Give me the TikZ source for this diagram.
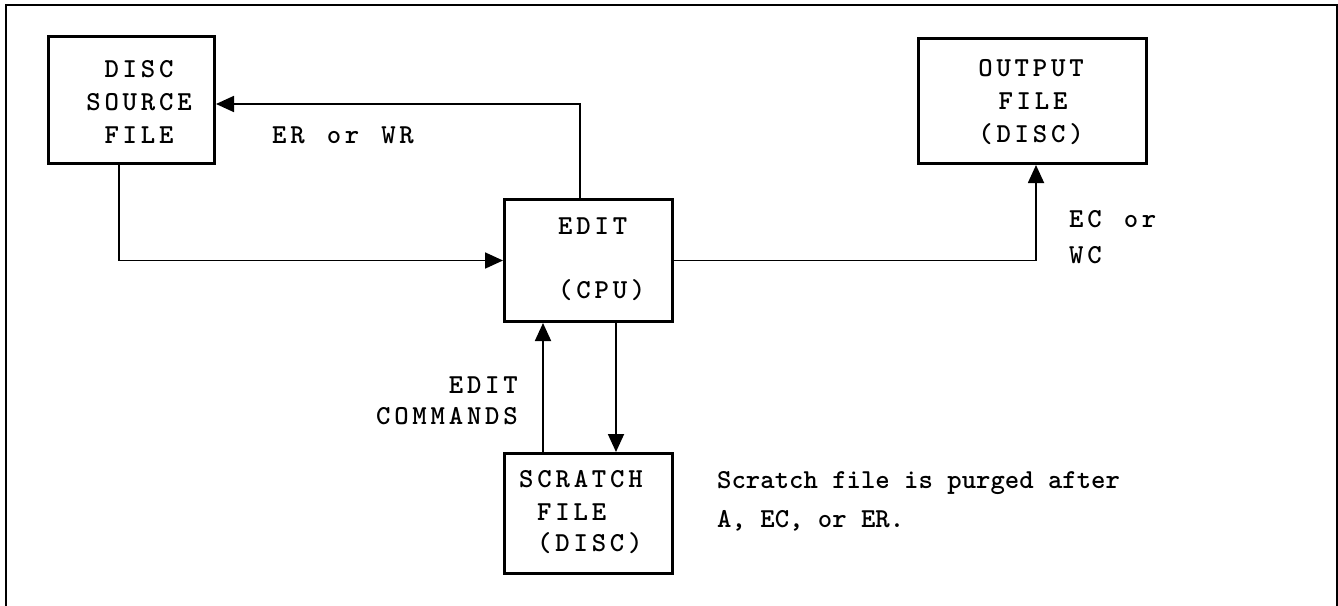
\documentclass[tikz,border=0pt]{standalone}
\usetikzlibrary{arrows.meta,positioning}
\ExplSyntaxOn
\NewDocumentCommand\lsp{m}{%
  \str_map_inline:nn{#1}{%
    \str_if_eq:nnTF{##1}{~}{\kern14.385pt}{##1}\kern3.8pt}%
  \unkern}
\ExplSyntaxOff
\tikzset{
  x=1pt,y=-1pt,
  box/.style={draw,line width=3pt,inner sep=0pt},
  link/.style={line width=1.8pt},
  tip/.style={-{Triangle[length=18pt,width=16pt]}},
  txt/.style={inner sep=0pt,font=\ttfamily\bfseries\fontsize{27.4}{33.5}\selectfont},
}
\begin{document}
\begin{tikzpicture}
\useasboundingbox (0,0) rectangle (1338,605);
% outer frame (no bottom edge)
\draw[link] (6,606) -- (6,5) -- (1337,5) -- (1337,606);

% boxes
\node[box,minimum width=166pt,minimum height=127pt] (disc) at (131.5,100) {};
\node[box,minimum width=168pt,minimum height=122pt] (edit) at (588.5,260.5) {};
\node[box,minimum width=168pt,minimum height=120pt] (scratch) at (588.5,513.5) {};
\node[box,minimum width=228pt,minimum height=125pt] (output) at (1032.5,101) {};

% box texts
\node[txt,anchor=base] (d1) at (139,77) {\lsp{DISC}};
\node[txt,anchor=base] (d2) at (139,110.5) {\lsp{SOURCE}};
\node[txt,anchor=base] (d3) at (139,143) {\lsp{FILE}};

\node[txt,anchor=base west] (e1) at (558,234) {\lsp{EDIT}};
\node[txt,anchor=base west] (e2) at (558,298) {\lsp{(CPU)}};

\node[txt,anchor=base] (o1) at (1031,76) {\lsp{OUTPUT}};
\node[txt,anchor=base] (o2) at (1033,109.5) {\lsp{FILE}};
\node[txt,anchor=base] (o3) at (1031,142) {\lsp{(DISC)}};

\node[txt,anchor=base west] (s1) at (519,487) {\lsp{SCRATCH}};
\node[txt,anchor=base west] (s2) at (537,520) {\lsp{FILE}};
\node[txt,anchor=base west] (s3) at (537,551) {\lsp{(DISC)}};

% connector labels
\node[txt,anchor=base west] (l1) at (272,143) {\lsp{ER or WR}};
\node[txt,anchor=base west] (l2) at (1069,227) {\lsp{EC or}};
\node[txt,anchor=base west] (l3) at (1069,263) {\lsp{WC}};
\node[txt,anchor=base east] (l4) at (518,393) {\lsp{EDIT}};
\node[txt,anchor=base east] (l5) at (518,424) {\lsp{COMMANDS}};

% note
\node[txt,anchor=base west] (n1) at (717,488) {Scratch file is purged after};
\node[txt,anchor=base west] (n2) at (717,527) {A, EC, or ER.};

% connectors
\draw[link,tip] ([xshift=-8.5pt]edit.north) |- ([yshift=-4pt]disc.east);
\draw[link,tip] ([xshift=-12.5pt]disc.south) |- (edit.west);
\draw[link,tip] (edit.east) -| ([xshift=3.5pt]output.south);
\draw[link,tip] ([xshift=-45.5pt]scratch.north) -- ([xshift=-45.5pt]edit.south);
\draw[link,tip] ([xshift=27.5pt]edit.south) -- ([xshift=27.5pt]scratch.north);
\end{tikzpicture}
\end{document}
